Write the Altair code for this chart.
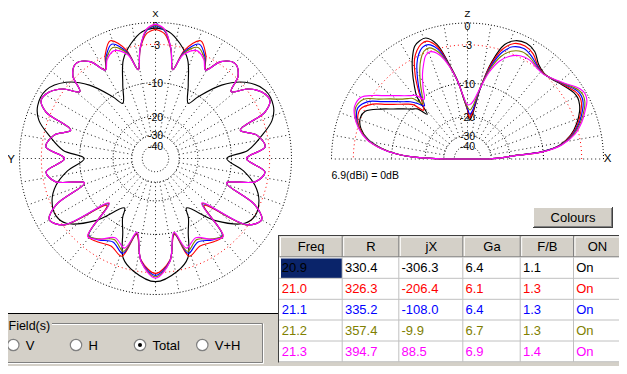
import altair as alt
import pandas as pd

# ---------------- values ----------------
FREQS = ["20.9", "21.0", "21.1", "21.2", "21.3"]
R_VALS = [330.4, 326.3, 335.2, 357.4, 394.7]
JX_VALS = [-306.3, -206.4, -108.0, -9.9, 88.5]
GA_VALS = [6.4, 6.1, 6.4, 6.7, 6.9]
FB_VALS = [1.1, 1.3, 1.3, 1.3, 1.4]
ON_VALS = ["On", "On", "On", "On", "On"]
HEADERS = ["Freq", "R", "jX", "Ga", "F/B", "ON"]
SERIES_COLORS = ["#000000", "#ff0000", "#0000ff", "#808000", "#ff00ff"]

RING_DB = [0, -3, -10, -20, -30, -40]
RING_LABELS = ["0", "-3", "-10", "-20", "-30", "-40"]
REF_TEXT = "6.9(dBi) = 0dB"
FIELD_OPTIONS = ["V", "H", "Total", "V+H"]
SELECTED_FIELD = "Total"
BUTTON_TEXT = "Colours"

# azimuth pattern (deg clockwise from X, half 0..180, symmetric), dB
AZ_ANG_209 = [0, 6, 12, 18, 24, 30.7, 34.7, 42, 49.6, 58, 66, 72, 78, 85, 90, 98, 105, 112,
              120, 126, 136, 148, 151, 156, 162, 169, 180]
AZ_DB_209 = [-0.7, -1.1, -2.5, -4.6, -9.0, -12.9, -10.2, -5.5, -2.5, -0.9, -0.9, -1.8, -3.9,
             -6.6, -11.1, -7.3, -4.8, -3.4, -2.9, -3.6, -7.8, -14.5, -11.9, -9.0, -4.5, -2.9, -1.7]
AZ_ANG = [0, 4, 8, 11, 15, 21, 26, 29.5, 34, 40, 45, 48.5, 53, 58, 63, 67, 71.5, 77, 84, 90,
          97, 103, 109, 115, 120, 126, 134, 139, 145, 153, 161, 166, 172, 180]
AZ_DB_210 = [-0.9, -1.4, -3.6, -7.0, -3.3, -1.3, -2.9, -4.9, -2.6, -1.6, -2.6, -5.1, -2.8, -1.4,
             -1.0, -2.3, -7.2, -4.6, -3.6, -6.9, -3.6, -4.8, -10.2, -3.7, -1.8, -3.2, -12.0,
             -4.8, -5.0, -5.6, -4.7, -9.5, -4.8, -2.9]
AZ_DB_211 = [-0.4, -1.0, -3.5, -7.0, -3.6, -1.8, -3.2, -5.0, -2.6, -1.6, -2.6, -5.1, -2.8, -1.4,
             -1.0, -2.3, -7.2, -4.6, -3.6, -6.9, -3.6, -4.8, -10.2, -3.7, -1.8, -3.2, -12.5,
             -5.0, -5.4, -6.4, -5.2, -9.7, -4.7, -2.6]
AZ_DB_212 = [-0.3, -0.9, -3.5, -7.0, -3.8, -2.3, -3.4, -5.0, -2.6, -1.6, -2.6, -5.1, -2.8, -1.4,
             -1.0, -2.3, -7.2, -4.6, -3.6, -6.9, -3.6, -4.8, -10.2, -3.7, -1.8, -3.2, -12.7,
             -4.9, -5.6, -6.9, -5.6, -9.8, -4.6, -2.4]
AZ_DB_213 = [-0.2, -0.8, -3.5, -7.0, -4.0, -2.8, -3.6, -5.0, -2.6, -1.6, -2.6, -5.1, -2.8, -1.4,
             -1.0, -2.3, -7.2, -4.6, -3.6, -6.9, -3.6, -4.8, -10.2, -3.7, -1.8, -3.2, -12.9,
             -4.7, -5.5, -7.3, -6.2, -10.0, -4.6, -2.2]

# elevation pattern (deg from X towards Z, 0..180), dB
EL_ANG = [0, 2, 4, 5.5, 8.5, 13, 18, 23, 26, 29, 32, 38, 44, 48, 53, 58, 63, 68, 72, 76,
          80, 84, 87, 90, 94, 97, 101, 105, 109, 112, 115, 118, 122, 126, 129, 132, 135, 138,
          142, 146, 150, 155, 159, 164, 169, 173, 176, 178, 180]
EL_DB_209 = [-32, -24, -18.5, -10.5, -6.5, -4.3, -2.9, -1.9, -1.5, -1.3, -1.4, -2.1, -2.75,
             -2.9, -2.4, -1.2, -0.8, -1.1, -2.1, -5.3, -11.5, -19.5, -21.5, -17.5, -13.5, -9.5,
             -5.8, -2.3, -1.05, -1.1, -1.5, -2.6, -4.6, -7.0, -9.0, -14.0, -11.2, -10.3, -8.8,
             -7.2, -5.3, -3.2, -2.9, -3.5, -5.1, -7.8, -11.2, -16, -32]
EL_DB_210 = [-32, -24, -18.2, -10.3, -6.4, -4.15, -2.7, -1.7, -1.2, -1.0, -1.15, -2.0, -2.7,
             -2.95, -2.6, -1.6, -1.2, -1.5, -2.7, -5.7, -11.2, -18.5, -20.5, -17.5, -13.3,
             -9.7, -6.0, -2.7, -1.5, -1.6, -2.2, -3.2, -5.5, -8.5, -11.0, -12.5, -9.8, -8.7,
             -7.3, -5.7, -3.7, -2.4, -2.5, -3.3, -5.0, -7.7, -11.2, -16, -32]
EL_DB_211 = [-32, -24, -18, -10.2, -6.3, -4.0, -2.5, -1.45, -0.95, -0.75, -0.9, -1.9, -2.7,
             -3.0, -2.7, -2.0, -1.6, -2.0, -3.3, -6.2, -11.2, -17.5, -19.0, -17.0, -13.2, -9.7,
             -6.1, -3.1, -2.0, -2.1, -2.8, -4.0, -6.3, -9.0, -11.8, -10.3, -8.9, -7.95, -6.5,
             -4.85, -2.9, -2.0, -2.3, -3.2, -5.0, -7.7, -11.2, -16, -32]
EL_DB_212 = [-32, -24, -18, -10.0, -6.2, -3.8, -2.3, -1.2, -0.7, -0.5, -0.7, -1.8, -2.7, -3.0,
             -2.85, -2.3, -2.1, -2.7, -4.0, -6.7, -11.1, -16.0, -17.5, -16.5, -13.1, -9.7,
             -6.2, -3.6, -2.5, -2.7, -3.6, -5.0, -7.3, -9.8, -11.2, -8.8, -8.0, -7.2, -5.7,
             -4.1, -2.2, -1.7, -2.1, -3.2, -4.9, -7.6, -11.2, -16, -32]
EL_DB_213 = [-32, -24, -18, -9.9, -6.1, -3.6, -2.1, -1.0, -0.4, -0.2, -0.45, -1.7, -2.65,
             -3.05, -2.95, -2.6, -2.75, -3.55, -4.8, -7.2, -11.0, -14.4, -15.6, -15.8, -13.0,
             -9.7, -6.3, -4.0, -3.1, -3.4, -4.6, -6.0, -8.3, -10.5, -8.7, -8.0, -7.2, -6.2,
             -4.8, -3.1, -1.7, -1.5, -2.0, -3.1, -4.8, -7.5, -11.2, -16, -32]

AZ_SETS = [(AZ_ANG_209, AZ_DB_209), (AZ_ANG, AZ_DB_210), (AZ_ANG, AZ_DB_211),
           (AZ_ANG, AZ_DB_212), (AZ_ANG, AZ_DB_213)]
EL_SETS = [EL_DB_209, EL_DB_210, EL_DB_211, EL_DB_212, EL_DB_213]

# ---------------- layout (page pixels) ----------------
LCX, LCY = 155.5, 158.5
RCX, RCY = 467.5, 159.0
RAD = 136.0
FONT = "Liberation Sans"
GRAY = "#d4d0c8"
COL_EDGES = [279.5, 342.7, 399.3, 463.3, 520.7, 574.0, 621.0]
ROW_EDGES = [236.0, 257.3, 278.3, 299.3, 320.0, 341.0, 361.7]

XS = alt.Scale(domain=[8, 619], nice=False, zero=False)
YS = alt.Scale(domain=[8, 366], reverse=True, nice=False, zero=False)


def pxy():
    return dict(x=alt.X("px:Q", scale=XS, axis=None), y=alt.Y("py:Q", scale=YS, axis=None))


RR = f"{RAD}*pow(0.89,-datum.db/2)"


def left_polar(ch):
    return ch.transform_calculate(
        rr=RR,
        px=f"{LCX}+datum.rr*sin(datum.ang*PI/180)",
        py=f"{LCY}-datum.rr*cos(datum.ang*PI/180)",
    )


def right_polar(ch):
    return ch.transform_calculate(
        rr=RR,
        px=f"{RCX}+datum.rr*cos(datum.ang*PI/180)",
        py=f"{RCY}-datum.rr*sin(datum.ang*PI/180)",
    )


layers = []

# --- GUI base rectangles ---
base_rects = pd.DataFrame([
    dict(x=0, y=8, x2=622, y2=313, c="#ffffff"),
    dict(x=279, y=236, x2=621, y2=257.3, c=GRAY),
    dict(x=279, y=257.3, x2=621, y2=362, c="#ffffff"),
    dict(x=281, y=258.6, x2=342, y2=278, c="#0a246a"),
    dict(x=533, y=207, x2=613, y2=228, c=GRAY),
])


def rect_layer(df):
    return alt.Chart(df).mark_rect().encode(
        x=alt.X("x:Q", scale=XS, axis=None), x2="x2:Q",
        y=alt.Y("y:Q", scale=YS, axis=None), y2="y2:Q",
        color=alt.Color("c:N", scale=None))


def rule_layer(df, width=1.0):
    return alt.Chart(df).mark_rule(strokeWidth=width).encode(
        x=alt.X("x:Q", scale=XS, axis=None), x2="x2:Q",
        y=alt.Y("y:Q", scale=YS, axis=None), y2="y2:Q",
        color=alt.Color("c:N", scale=None))


layers.append(rect_layer(base_rects))

# --- GUI rules ---
rules = [
    dict(x=0, y=313.5, x2=279, y2=313.5, c="#000000"),
    dict(x=278, y=235.5, x2=621, y2=235.5, c="#404040"),
    dict(x=278.5, y=235, x2=278.5, y2=362.5, c="#404040"),
    # Colours button bevel
    dict(x=533, y=207.5, x2=612, y2=207.5, c="#ffffff"),
    dict(x=533.5, y=207, x2=533.5, y2=227, c="#ffffff"),
    dict(x=533, y=227.5, x2=613, y2=227.5, c="#404040"),
    dict(x=612.5, y=207, x2=612.5, y2=228, c="#404040"),
    dict(x=534, y=226.5, x2=612, y2=226.5, c="#808080"),
    dict(x=611.5, y=208, x2=611.5, y2=227, c="#808080"),
    # group box (etched)
    dict(x=2.5, y=323.5, x2=262.5, y2=323.5, c="#808080"),
    dict(x=2.5, y=323.5, x2=2.5, y2=362.5, c="#808080"),
    dict(x=2.5, y=362.5, x2=262.5, y2=362.5, c="#808080"),
    dict(x=262.5, y=323.5, x2=262.5, y2=362.5, c="#808080"),
    dict(x=3.5, y=324.5, x2=261.5, y2=324.5, c="#ffffff"),
    dict(x=3.5, y=324.5, x2=3.5, y2=361.5, c="#ffffff"),
    dict(x=2.5, y=363.5, x2=263.5, y2=363.5, c="#ffffff"),
    dict(x=263.5, y=323.5, x2=263.5, y2=363.5, c="#ffffff"),
]
for ci in range(len(HEADERS)):
    x0, x1 = COL_EDGES[ci], COL_EDGES[ci + 1]
    rules += [
        dict(x=x0 + 1, y=237, x2=x1 - 1, y2=237, c="#ffffff"),
        dict(x=x0 + 1, y=237, x2=x0 + 1, y2=256, c="#ffffff"),
        dict(x=x0, y=256.8, x2=x1, y2=256.8, c="#808080"),
        dict(x=x1 - 0.5, y=236, x2=x1 - 0.5, y2=257, c="#808080"),
    ]
for ry in ROW_EDGES[2:]:
    rules.append(dict(x=279, y=ry, x2=621, y2=ry, c="#c0c0c0"))
for cx_ in COL_EDGES[1:-1]:
    rules.append(dict(x=cx_ - 0.5, y=257.3, x2=cx_ - 0.5, y2=362, c="#c0c0c0"))
layers.append(rule_layer(pd.DataFrame(rules)))

# label background of the group box
layers.append(rect_layer(pd.DataFrame([dict(x=5, y=318, x2=52, y2=331, c=GRAY)])))

# --- polar grids ---
ring_rows_l, ring_rows_r = [], []
for db in RING_DB:
    for i, a in enumerate(range(0, 361, 2)):
        ring_rows_l.append(dict(ring=str(db), ang=a, db=db, i=i))
    for i, a in enumerate(range(0, 181, 2)):
        ring_rows_r.append(dict(ring=str(db), ang=a, db=db, i=i))
ring_l = pd.DataFrame(ring_rows_l)
ring_r = pd.DataFrame(ring_rows_r)

spk_l = pd.DataFrame([dict(spoke=a, ang=a, db=d, i=k)
                      for a in range(0, 360, 10) for k, d in enumerate([-30, 0])])
spk_r = pd.DataFrame([dict(spoke=a, ang=a, db=d, i=k)
                      for a in range(0, 181, 10) for k, d in enumerate([-30, 0])])

for polar, rdf, sdf in [(left_polar, ring_l, spk_l), (right_polar, ring_r, spk_r)]:
    layers.append(polar(alt.Chart(sdf)).mark_line(
        color="#000000", strokeWidth=1, strokeDash=[1, 3], opacity=0.9
    ).encode(**pxy(), detail="spoke:N", order="i:Q"))
    layers.append(polar(alt.Chart(rdf[rdf.db != -3])).mark_line(
        color="#000000", strokeWidth=1, strokeDash=[1, 2]
    ).encode(**pxy(), detail="ring:N", order="i:Q"))
    layers.append(polar(alt.Chart(rdf[rdf.db == -3])).mark_line(
        color="#ff0000", strokeWidth=1, strokeDash=[1, 3]
    ).encode(**pxy(), order="i:Q"))

# ring labels (the outer "0" sits just below the axis letter)
lab_l = pd.DataFrame(dict(ang=[0] * len(RING_DB), db=RING_DB, t=RING_LABELS))
lab_r = pd.DataFrame(dict(ang=[90] * len(RING_DB), db=RING_DB, t=RING_LABELS))
for polar, ldf in [(left_polar, lab_l), (right_polar, lab_r)]:
    layers.append(polar(alt.Chart(ldf[ldf.db != 0])).mark_text(
        font=FONT, fontSize=10.5, color="#000000", align="center", baseline="middle", dy=1.5
    ).encode(**pxy(), text="t:N"))
    layers.append(polar(alt.Chart(ldf[ldf.db == 0])).mark_text(
        font=FONT, fontSize=10.5, color="#000000", align="center", baseline="middle", dy=4
    ).encode(**pxy(), text="t:N"))

# axis letters
top_letters = pd.DataFrame([
    dict(px=LCX, py=14.2, t="X"),
    dict(px=RCX, py=14.2, t="Z"),
])
side_letters = pd.DataFrame([
    dict(px=LCX - RAD - 8.5, py=LCY + 1.5, t="Y"),
    dict(px=RCX + RAD + 4, py=RCY, t="X"),
])
layers.append(alt.Chart(top_letters).mark_text(
    font=FONT, fontSize=9.5, color="#000000", align="center", baseline="middle"
).encode(**pxy(), text="t:N"))
layers.append(alt.Chart(side_letters).mark_text(
    font=FONT, fontSize=11.5, color="#000000", align="center", baseline="middle"
).encode(**pxy(), text="t:N"))

# --- pattern curves ---
def az_full(angs, dbs):
    a = list(angs) + [360 - v for v in reversed(angs[1:-1])] + [360]
    d = list(dbs) + list(reversed(dbs[1:-1])) + [dbs[0]]
    return a, d


for (angs, dbs), col in zip(AZ_SETS, SERIES_COLORS):
    a, d = az_full(angs, dbs)
    df = pd.DataFrame(dict(ang=a, db=d, i=range(len(a))))
    layers.append(left_polar(alt.Chart(df)).mark_line(
        interpolate="catmull-rom", color=col, strokeWidth=1.15
    ).encode(**pxy(), order="i:Q"))

for dbs, col in zip(EL_SETS, SERIES_COLORS):
    df = pd.DataFrame(dict(ang=EL_ANG, db=dbs, i=range(len(EL_ANG))))
    layers.append(right_polar(alt.Chart(df)).mark_line(
        interpolate="catmull-rom", color=col, strokeWidth=1.15
    ).encode(**pxy(), order="i:Q"))
    close = pd.DataFrame(dict(ang=[EL_ANG[-1], EL_ANG[0]], db=[dbs[-1], dbs[0]], i=[0, 1]))
    layers.append(right_polar(alt.Chart(close)).mark_line(
        color=col, strokeWidth=1.15
    ).encode(**pxy(), order="i:Q"))

# --- texts ---
center_txt = [dict(px=(COL_EDGES[i] + COL_EDGES[i + 1]) / 2, py=246.8, t=h, c="#000000", fs=13)
              for i, h in enumerate(HEADERS)]
center_txt.append(dict(px=573, py=217.5, t=BUTTON_TEXT, c="#000000", fs=13))
layers.append(alt.Chart(pd.DataFrame(center_txt)).mark_text(
    font=FONT, align="center", baseline="middle"
).encode(**pxy(), text="t:N", color=alt.Color("c:N", scale=None),
         size=alt.Size("fs:Q", scale=None)))

left_txt = []
for r in range(len(FREQS)):
    vals = [FREQS[r], f"{R_VALS[r]:.1f}", f"{JX_VALS[r]:.1f}", f"{GA_VALS[r]:.1f}",
            f"{FB_VALS[r]:.1f}", ON_VALS[r]]
    yc = (ROW_EDGES[r + 1] + ROW_EDGES[r + 2]) / 2 + 0.5
    for ci, v in enumerate(vals):
        left_txt.append(dict(px=COL_EDGES[ci] + 2.2, py=yc, t=v, c=SERIES_COLORS[r], fs=13))
left_txt.append(dict(px=331.5, py=175.5, t=REF_TEXT, c="#000000", fs=10.5))
left_txt.append(dict(px=8.5, py=325.5, t="Field(s)", c="#000000", fs=12.5))
RADIO_X = [13.3, 76.0, 140.0, 202.3]
for xr, opt in zip(RADIO_X, FIELD_OPTIONS):
    left_txt.append(dict(px=xr + 12.5, py=345.5, t=opt, c="#000000", fs=13))
layers.append(alt.Chart(pd.DataFrame(left_txt)).mark_text(
    font=FONT, align="left", baseline="middle"
).encode(**pxy(), text="t:N", color=alt.Color("c:N", scale=None),
         size=alt.Size("fs:Q", scale=None)))

# radio buttons
radio = pd.DataFrame(dict(px=RADIO_X, py=[345] * 4, opt=FIELD_OPTIONS))
layers.append(alt.Chart(radio).mark_point(
    shape="circle", filled=True, fill="#ffffff", stroke="#808080", strokeWidth=1.2,
    size=130, opacity=1
).encode(**pxy()))
layers.append(alt.Chart(radio[radio.opt == SELECTED_FIELD]).mark_point(
    shape="circle", filled=True, color="#000000", size=16, opacity=1
).encode(**pxy()))

chart = alt.layer(*layers).properties(
    width=611, height=358, padding=0,
    autosize=alt.AutoSizeParams(type="none"),
    background=GRAY,
).configure_view(stroke=None)

chart.save("out.html", embed_options={"renderer": "svg", "actions": False})
